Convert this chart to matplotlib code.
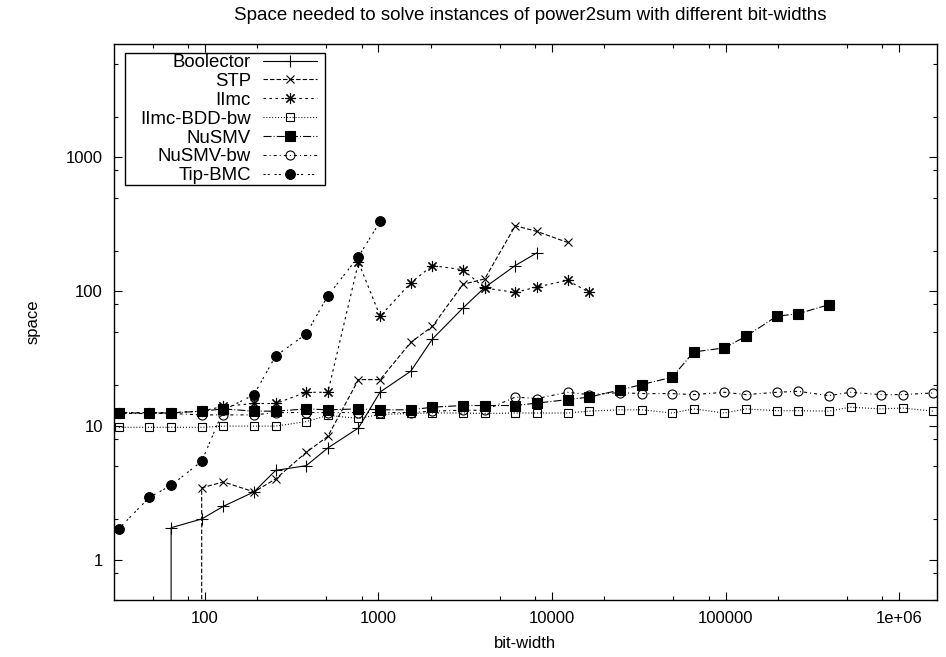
import matplotlib
matplotlib.use("Agg")
import matplotlib.pyplot as plt
from matplotlib.patches import Rectangle
from matplotlib.ticker import FixedLocator, FixedFormatter, LogLocator, NullFormatter

plt.rcParams['font.family'] = ['Liberation Sans', 'DejaVu Sans']
plt.rcParams['lines.scale_dashes'] = False

# bit-widths sampled by the benchmark (2^k and 1.5*2^k)
widths = [32, 48, 64, 96, 128, 192, 256, 384, 512, 768, 1024, 1536, 2048, 3072,
          4096, 6144, 8192, 12288, 16384, 24576, 32768, 49152, 65536, 98304,
          131072, 196608, 262144, 393216, 524288, 786432, 1048576, 1572864]

# Boolector / STP start with a point below the visible range (drawn as a drop line)
boolector_x = [64, 64, 96, 128, 192, 256, 384, 512, 768, 1024, 1536, 2048, 3072, 4096, 6144, 8192]
boolector_y = [0.1, 1.73, 2.01, 2.50, 3.20, 4.63, 5.02, 6.81, 9.6, 17.8, 25.4, 44.2, 75.3, 107, 156, 194]

stp_x = [96, 96, 128, 192, 256, 384, 512, 768, 1024, 1536, 2048, 3072, 4096, 6144, 8192, 12288]
stp_y = [0.1, 3.43, 3.80, 3.20, 4.0, 6.31, 8.32, 22, 22, 41.7, 54.9, 113, 124, 309, 280, 232]

iimc_x = widths[:19]
iimc_y = [12.5, 12.5, 12.5, 12.8, 13.9, 14.6, 14.6, 17.7, 17.7, 165, 65.2, 116, 156, 145,
          106, 98.4, 108, 121, 98.4]

iimc_bdd_x = widths
iimc_bdd_y = [9.7, 9.7, 9.7, 9.7, 9.9, 9.9, 9.9, 10.7, 11.9, 11.3, 12.1, 12.3, 12.4, 12.4,
              12.3, 12.4, 12.4, 12.4, 12.8, 13.1, 13.1, 12.4, 13.3, 12.4, 13.3, 12.9,
              12.9, 12.8, 13.7, 13.3, 13.5, 12.8]

nusmv_x = widths[:28]
nusmv_y = [12.4, 12.4, 12.4, 12.8, 13.3, 12.8, 12.8, 13.3, 13.1, 13.3, 13.1, 13.1, 13.7, 14.1,
           14.1, 14.1, 14.7, 15.6, 16.3, 18.4, 20.2, 22.9, 35.4, 37.9, 46.3, 65.2, 68.3, 79.6]

nusmv_bw_x = widths
nusmv_bw_y = [12.3, 12.3, 12.3, 12.0, 12.0, 12.0, 12.5, 12.5, 12.5, 12.5, 12.5, 12.5, 12.8, 13.0,
              13.0, 16.3, 15.9, 17.7, 17.0, 17.6, 17.3, 17.3, 17.0, 17.7, 17.0, 17.7,
              18.0, 16.7, 17.7, 17.0, 17.0, 17.5]

tip_x = widths[:11]
tip_y = [1.70, 2.92, 3.58, 5.41, 13.0, 17.0, 33.0, 48.2, 92.9, 182, 333]

xticks = [100, 1000, 10000, 100000, 1000000]
xtick_labels = ['100', '1000', '10000', '100000', '1e+06']
yticks = [1, 10, 100, 1000]
ytick_labels = ['1', '10', '100', '1000']

fig = plt.figure(figsize=(9.46, 6.57), dpi=100)
ax = fig.add_axes([114 / 946, 57 / 657, 823 / 946, 556 / 657])

lw = 0.8
mew = 0.8
ax.plot(boolector_x, boolector_y, color='black', lw=lw, marker='+', ms=8, mew=mew,
        label='Boolector')
ax.plot(stp_x, stp_y, color='black', lw=lw, dashes=(3.2, 1.5), marker='x', ms=6, mew=mew,
        label='STP')
ax.plot(iimc_x, iimc_y, color='black', lw=lw, dashes=(1.8, 2.5), marker=(8, 2, 0), ms=8,
        mew=mew, label='IImc')
ax.plot(iimc_bdd_x, iimc_bdd_y, color='black', lw=lw, dashes=(0.7, 1.4), marker='s', ms=6,
        mew=mew, mfc='none', label='IImc-BDD-bw')
ax.plot(nusmv_x, nusmv_y, color='black', lw=lw, dashes=(5.8, 1.5, 0.7, 1.5), marker='s',
        ms=7, mew=mew, label='NuSMV')
ax.plot(nusmv_bw_x, nusmv_bw_y, color='black', lw=lw, dashes=(2.2, 2.2, 0.7, 2.2),
        marker='o', ms=6.5, mew=mew, mfc='none', label='NuSMV-bw')
ax.plot(tip_x, tip_y, color='black', lw=lw, dashes=(1.5, 1.5, 1.5, 3.5), marker='o', ms=7,
        mew=mew, label='Tip-BMC')

ax.set_xscale('log')
ax.set_yscale('log')
ax.set_xlim(30, 1.65e6)
ax.set_ylim(0.5, 7000)

ax.xaxis.set_major_locator(FixedLocator(xticks))
ax.xaxis.set_major_formatter(FixedFormatter(xtick_labels))
ax.yaxis.set_major_locator(FixedLocator(yticks))
ax.yaxis.set_major_formatter(FixedFormatter(ytick_labels))
ax.xaxis.set_minor_locator(LogLocator(base=10, subs=[2, 5, 8], numticks=20))
ax.yaxis.set_minor_locator(LogLocator(base=10, subs=[2, 5, 8], numticks=20))
ax.xaxis.set_minor_formatter(NullFormatter())
ax.yaxis.set_minor_formatter(NullFormatter())
ax.tick_params(which='both', direction='in', top=True, right=True, width=0.8,
               labelsize=12, pad=8)
ax.tick_params(which='major', length=5.8)
ax.tick_params(which='minor', length=2.9)
for s in ax.spines.values():
    s.set_linewidth(1.0)

# gnuplot-like key: labels right-aligned, samples on the right
leg = ax.legend(loc='upper left', bbox_to_anchor=(0.0316, 0.982), borderaxespad=0,
                markerfirst=False, frameon=False, fontsize=13.4, handlelength=2.9,
                handletextpad=0.65, labelspacing=0.1, borderpad=0)
leg._legend_box.get_children()[1].get_children()[0].align = 'right'

# key frame: wide horizontal padding, almost none vertically
fig.canvas.draw()
bb = leg.get_window_extent(fig.canvas.get_renderer())
fig.add_artist(Rectangle((bb.x0 - 15, bb.y0 - 1), bb.width + 23, bb.height + 2,
                         transform=None, fill=False, edgecolor='black', lw=1.0))

fig.text(530 / 946, 1 - 15 / 657, 'Space needed to solve instances of power2sum with different bit-widths',
         ha='center', va='center', fontsize=13.5)
fig.text(525 / 946, 1 - 643 / 657, 'bit-width', ha='center', va='center', fontsize=12)
fig.text(33 / 946, 1 - 322 / 657, 'space', ha='center', va='center', rotation=90, fontsize=12)

fig.savefig('out.png', dpi=100)
